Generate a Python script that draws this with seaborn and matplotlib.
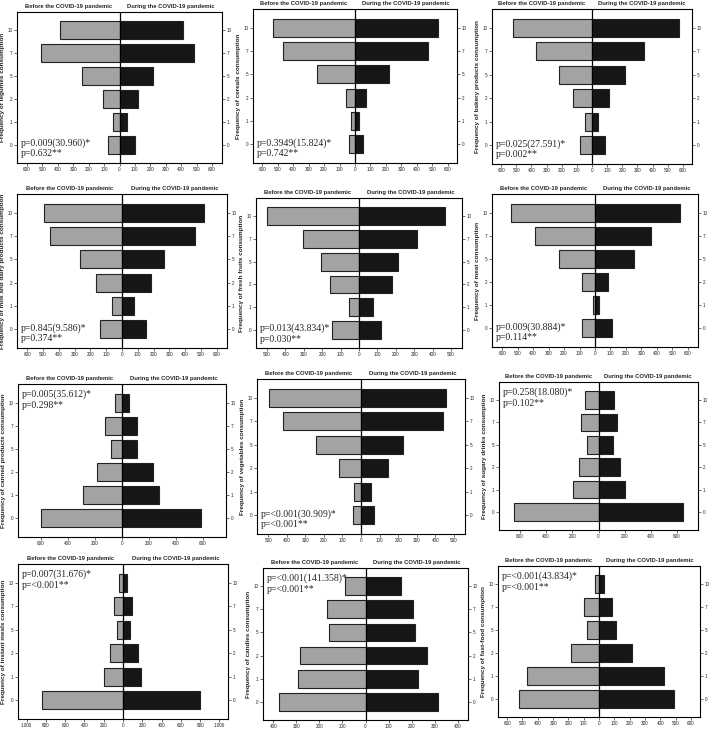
import numpy as np
import pandas as pd
import seaborn as sns
import matplotlib.pyplot as plt
from matplotlib.ticker import FuncFormatter, MultipleLocator

sns.set_style('white')
plt.rcParams['font.family'] = ['Liberation Sans', 'DejaVu Sans']

# frequency categories, top to bottom
freq = ['10', '7', '5', '2', '1', '0']

legumes_before = [384, 507, 246, 108, 45, 73]
legumes_during = [410, 484, 220, 117, 50, 99]
cereals_before = [532, 468, 243, 60, 26, 38]
cereals_during = [536, 472, 217, 74, 26, 49]
bakery_before = [522, 370, 216, 123, 47, 82]
bakery_during = [575, 345, 218, 112, 42, 87]
dairy_before = [496, 454, 268, 167, 65, 141]
dairy_during = [519, 464, 264, 181, 74, 152]
fruits_before = [500, 304, 207, 156, 53, 145]
fruits_during = [469, 318, 213, 182, 78, 122]
meat_before = [540, 387, 234, 83, 11, 83]
meat_during = [549, 364, 249, 83, 23, 111]
canned_before = [54, 128, 84, 188, 291, 602]
canned_during = [49, 111, 109, 227, 272, 585]
veg_before = [495, 418, 243, 118, 39, 41]
veg_during = [459, 443, 227, 148, 52, 71]
sugary_before = [105, 135, 85, 150, 193, 645]
sugary_during = [120, 138, 110, 165, 200, 643]
instant_before = [41, 97, 59, 134, 197, 838]
instant_during = [45, 93, 72, 155, 186, 800]
candies_before = [88, 168, 158, 285, 293, 375]
candies_during = [155, 206, 217, 267, 230, 316]
fastfood_before = [26, 96, 80, 180, 472, 522]
fastfood_during = [33, 83, 111, 217, 424, 493]

foods = ['legumes', 'cereals', 'bakery products', 'milk and dairy products',
         'fresh fruits', 'meat', 'canned products', 'vegetables',
         'sugary drinks', 'instant meals', 'candies', 'fast-food']
before_all = [legumes_before, cereals_before, bakery_before, dairy_before,
              fruits_before, meat_before, canned_before, veg_before,
              sugary_before, instant_before, candies_before, fastfood_before]
during_all = [legumes_during, cereals_during, bakery_during, dairy_during,
              fruits_during, meat_during, canned_during, veg_during,
              sugary_during, instant_during, candies_during, fastfood_during]
p_chi = ['0.009(30.960)', '0.3949(15.824)', '0.025(27.591)', '0.845(9.586)',
         '0.013(43.834)', '0.009(30.884)', '0.005(35.612)', '<0.001(30.909)',
         '0.258(18.080)', '0.007(31.676)', '<0.001(141.358)', '<0.001(43.834)']
p_second = ['0.632', '0.742', '0.002', '0.374', '0.030', '0.114',
            '0.298', '<0.001', '0.102', '<0.001', '<0.001', '<0.001']
text_top = [False, False, False, False, False, False,
            True, False, True, True, True, True]

# layout: axes box in pixels (left, top, right, bottom), x limit, tick step
boxes = [(17, 12, 222, 163), (253, 9, 457, 163), (492, 9, 692, 164),
         (17, 194, 227, 348), (256, 198, 462, 348), (492, 194, 698, 347),
         (18, 384, 226, 537), (257, 379, 465, 534), (499, 382, 698, 530),
         (18, 564, 228, 719), (263, 568, 468, 720), (498, 566, 700, 717)]
xlims = [665, 660, 660, 665, 560, 665, 770, 560, 760, 1090, 445, 660]
steps = [100, 100, 100, 100, 100, 100, 200, 100, 200, 200, 100, 100]

W, H = 710, 729
fig = plt.figure(figsize=(7.1, 7.29), dpi=100)

fmt = FuncFormatter(lambda v, p: f"{abs(v):,.0f}".replace(',', '.'))

for i in range(12):
    l, t, r, b = boxes[i]
    ax = fig.add_axes([l / W, 1 - b / H, (r - l) / W, (b - t) / H])
    df = pd.DataFrame({'freq': freq,
                       'before': [-v for v in before_all[i]],
                       'during': during_all[i]})
    sns.barplot(data=df, x='before', y='freq', order=freq, orient='h',
                color='#a3a3a3', saturation=1, width=0.78, errorbar=None,
                edgecolor='#222222', linewidth=0.8, ax=ax)
    sns.barplot(data=df, x='during', y='freq', order=freq, orient='h',
                color='#161616', saturation=1, width=0.78, errorbar=None,
                edgecolor='#222222', linewidth=0.8, ax=ax)
    ax.axvline(0, color='black', lw=0.9)
    ax.set_xlim(-xlims[i], xlims[i])
    ax.set_ylim(5.8, -0.8)
    ax.xaxis.set_major_locator(MultipleLocator(steps[i]))
    ax.xaxis.set_major_formatter(fmt)
    ax.set_xlabel('')
    ax.set_ylabel(f'Frequency of {foods[i]} consumption', fontsize=4.6,
                  fontweight='bold', labelpad=1.5)
    ax.tick_params(axis='both', labelsize=3.3, length=2, width=0.5, pad=1.2,
                   color='#333333')
    ax.tick_params(axis='y', left=True, right=True, labelleft=True,
                   labelright=True)
    ax.tick_params(axis='x', bottom=True)
    for s in ax.spines.values():
        s.set_color('black')
        s.set_linewidth(0.8)
    ax.text(0.25, 1.02, 'Before the COVID-19 pandemic', transform=ax.transAxes,
            ha='center', va='bottom', fontsize=4.2, fontweight='bold')
    ax.text(0.75, 1.02, 'During the COVID-19 pandemic', transform=ax.transAxes,
            ha='center', va='bottom', fontsize=4.2, fontweight='bold')
    label = f'p={p_chi[i]}*\np={p_second[i]}**'
    if text_top[i]:
        ax.text(0.02, 0.965, label, transform=ax.transAxes, ha='left',
                va='top', fontsize=7, family=['Liberation Serif'],
                linespacing=1.25)
    else:
        ax.text(0.02, 0.03, label, transform=ax.transAxes, ha='left',
                va='bottom', fontsize=7, family=['Liberation Serif'],
                linespacing=1.25)

fig.savefig('out.png', dpi=100)
